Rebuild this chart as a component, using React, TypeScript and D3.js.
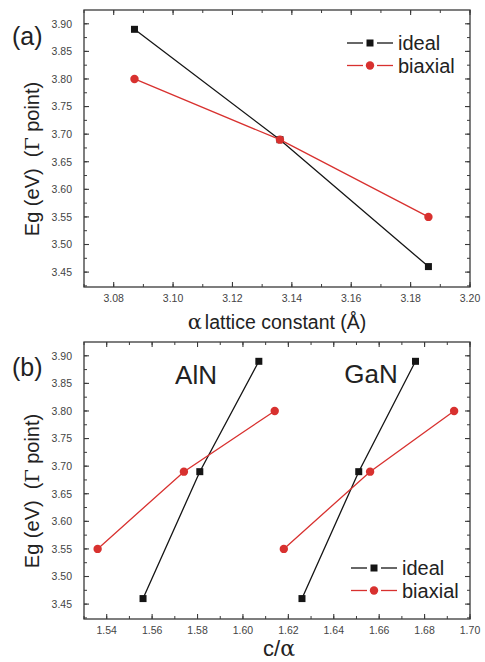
import React from "react";
import * as d3 from "d3";

// Band gap at the Γ point versus lattice parameter
const latticeA = [3.087, 3.136, 3.186];
const idealA = [3.89, 3.69, 3.46];
const biaxialA = [3.8, 3.69, 3.55];

const alnIdealCa = [1.556, 1.581, 1.607];
const alnIdealEg = [3.46, 3.69, 3.89];
const alnBiaxCa = [1.536, 1.574, 1.614];
const alnBiaxEg = [3.55, 3.69, 3.8];

const ganIdealCa = [1.626, 1.651, 1.676];
const ganIdealEg = [3.46, 3.69, 3.89];
const ganBiaxCa = [1.618, 1.656, 1.693];
const ganBiaxEg = [3.55, 3.69, 3.8];

const egTicks = ["3.45", "3.50", "3.55", "3.60", "3.65", "3.70", "3.75", "3.80", "3.85", "3.90"];
const latticeTicks = ["3.08", "3.10", "3.12", "3.14", "3.16", "3.18", "3.20"];
const caTicks = ["1.54", "1.56", "1.58", "1.60", "1.62", "1.64", "1.66", "1.68", "1.70"];

const BLACK = "#151515";
const RED = "#d8312f";
const AXIS = "#3a3a3a";
const FONT = "Liberation Sans, Arial, sans-serif";

type Series = { xs: number[]; ys: number[]; color: string; shape: "square" | "circle" };

function Marker({ x, y, shape, color }: { x: number; y: number; shape: string; color: string }) {
  if (shape === "square") {
    return <rect x={x - 3.5} y={y - 3.5} width={7} height={7} fill={color} />;
  }
  return <circle cx={x} cy={y} r={4.2} fill={color} />;
}

function Panel({
  top,
  xDomain,
  xTicks,
  xMinorStep,
  series,
}: {
  top: number;
  xDomain: [number, number];
  xTicks: string[];
  xMinorStep: number;
  series: Series[];
}) {
  const left = 84;
  const right = 470;
  const bottom = top + 277;
  const x = d3.scaleLinear().domain(xDomain).range([left, right]);
  const y = d3.scaleLinear().domain([3.423, 3.925]).range([bottom, top]);

  const xMinor = d3
    .range(Math.ceil(xDomain[0] / xMinorStep - 1e-6), Math.floor(xDomain[1] / xMinorStep + 1e-6) + 1)
    .map((k) => k * xMinorStep);
  const yMinor = d3.range(Math.ceil(3.423 / 0.025), Math.floor(3.925 / 0.025) + 1).map((k) => k * 0.025);

  const line = d3
    .line<[number, number]>()
    .x((d) => x(d[0]))
    .y((d) => y(d[1]));

  return (
    <g>
      {series.map((s, i) => {
        const pts = s.xs.map((v, j) => [v, s.ys[j]] as [number, number]);
        return (
          <g key={i}>
            <path d={line(pts) ?? ""} fill="none" stroke={s.color} strokeWidth={1.3} />
            {pts.map((p, j) => (
              <Marker key={j} x={x(p[0])} y={y(p[1])} shape={s.shape} color={s.color} />
            ))}
          </g>
        );
      })}
      {/* minor ticks */}
      {xMinor.map((v, i) => (
        <g key={"xm" + i} stroke={AXIS} strokeWidth={1}>
          <line x1={x(v)} x2={x(v)} y1={bottom} y2={bottom - 3} />
          <line x1={x(v)} x2={x(v)} y1={top} y2={top + 3} />
        </g>
      ))}
      {yMinor.map((v, i) => (
        <g key={"ym" + i} stroke={AXIS} strokeWidth={1}>
          <line x1={left} x2={left + 3} y1={y(v)} y2={y(v)} />
          <line x1={right} x2={right - 3} y1={y(v)} y2={y(v)} />
        </g>
      ))}
      {/* major ticks and labels */}
      {xTicks.map((t) => {
        const v = +t;
        return (
          <g key={"x" + t}>
            <line x1={x(v)} x2={x(v)} y1={bottom} y2={bottom - 5} stroke={AXIS} strokeWidth={1.1} />
            <line x1={x(v)} x2={x(v)} y1={top} y2={top + 5} stroke={AXIS} strokeWidth={1.1} />
            <text x={x(v)} y={bottom + 15} textAnchor="middle" fontSize={10.5} fill="#444" fontFamily={FONT}>
              {t}
            </text>
          </g>
        );
      })}
      {egTicks.map((t) => {
        const v = +t;
        return (
          <g key={"y" + t}>
            <line x1={left} x2={left + 5} y1={y(v)} y2={y(v)} stroke={AXIS} strokeWidth={1.1} />
            <line x1={right} x2={right - 5} y1={y(v)} y2={y(v)} stroke={AXIS} strokeWidth={1.1} />
            <text x={72} y={y(v) + 3.8} textAnchor="end" fontSize={10.5} fill="#444" fontFamily={FONT}>
              {t}
            </text>
          </g>
        );
      })}
      <rect x={left} y={top} width={right - left} height={bottom - top} fill="none" stroke={AXIS} strokeWidth={1.3} />
      {/* y-axis title */}
      <text
        transform={`translate(39,${top + 149}) rotate(-90)`}
        textAnchor="middle"
        fontSize={20}
        fill="#222"
        fontFamily={FONT}
        style={{ whiteSpace: "pre" }}
      >
        {"Eg (eV)  ("}
        <tspan fontFamily="DejaVu Serif, serif" fontSize={19}>Γ</tspan>
        {" point)"}
      </text>
    </g>
  );
}

function Legend({ x, y }: { x: number; y: number }) {
  const rows = [
    { label: "ideal", color: BLACK, shape: "square" },
    { label: "biaxial", color: RED, shape: "circle" },
  ];
  return (
    <g>
      {rows.map((r, i) => {
        const cy = y + i * 22.5;
        return (
          <g key={r.label}>
            <line x1={x} x2={x + 16} y1={cy} y2={cy} stroke={r.color} strokeWidth={1.3} />
            <line x1={x + 30} x2={x + 46} y1={cy} y2={cy} stroke={r.color} strokeWidth={1.3} />
            <Marker x={x + 23} y={cy} shape={r.shape} color={r.color} />
            <text x={x + 51} y={cy + 7} fontSize={20} fill="#222" fontFamily={FONT}>
              {r.label}
            </text>
          </g>
        );
      })}
    </g>
  );
}

export default function App() {
  const seriesA: Series[] = [
    { xs: latticeA, ys: idealA, color: BLACK, shape: "square" },
    { xs: latticeA, ys: biaxialA, color: RED, shape: "circle" },
  ];
  const seriesB: Series[] = [
    { xs: alnIdealCa, ys: alnIdealEg, color: BLACK, shape: "square" },
    { xs: alnBiaxCa, ys: alnBiaxEg, color: RED, shape: "circle" },
    { xs: ganIdealCa, ys: ganIdealEg, color: BLACK, shape: "square" },
    { xs: ganBiaxCa, ys: ganBiaxEg, color: RED, shape: "circle" },
  ];
  return (
    <div style={{ position: "absolute", left: 0, top: 0 }}>
      <svg width={485} height={662} style={{ display: "block", background: "#fff" }}>
        <Panel top={10} xDomain={[3.07, 3.2]} xTicks={latticeTicks} xMinorStep={0.01} series={seriesA} />
        <Legend x={347} y={43} />
        <text x={12} y={45} fontSize={25} fill="#222" fontFamily={FONT}>(a)</text>
        <text x={277} y={329} textAnchor="middle" fontSize={19.5} fill="#222" fontFamily={FONT}>
          <tspan fontFamily="DejaVu Serif, serif" fontSize={21}>α</tspan>
          <tspan dx={3}>lattice constant (Å)</tspan>
        </text>

        <Panel top={342} xDomain={[1.53, 1.7]} xTicks={caTicks} xMinorStep={0.01} series={seriesB} />
        <Legend x={351} y={568} />
        <text x={12} y={376} fontSize={25} fill="#222" fontFamily={FONT}>(b)</text>
        <text x={196} y={384} textAnchor="middle" fontSize={26} fill="#222" fontFamily={FONT}>AlN</text>
        <text x={371} y={383} textAnchor="middle" fontSize={26} fill="#222" fontFamily={FONT}>GaN</text>
        <text x={279} y={656} textAnchor="middle" fontSize={22} fill="#222" fontFamily={FONT}>
          c/<tspan fontFamily="DejaVu Serif, serif">α</tspan>
        </text>
      </svg>
    </div>
  );
}
